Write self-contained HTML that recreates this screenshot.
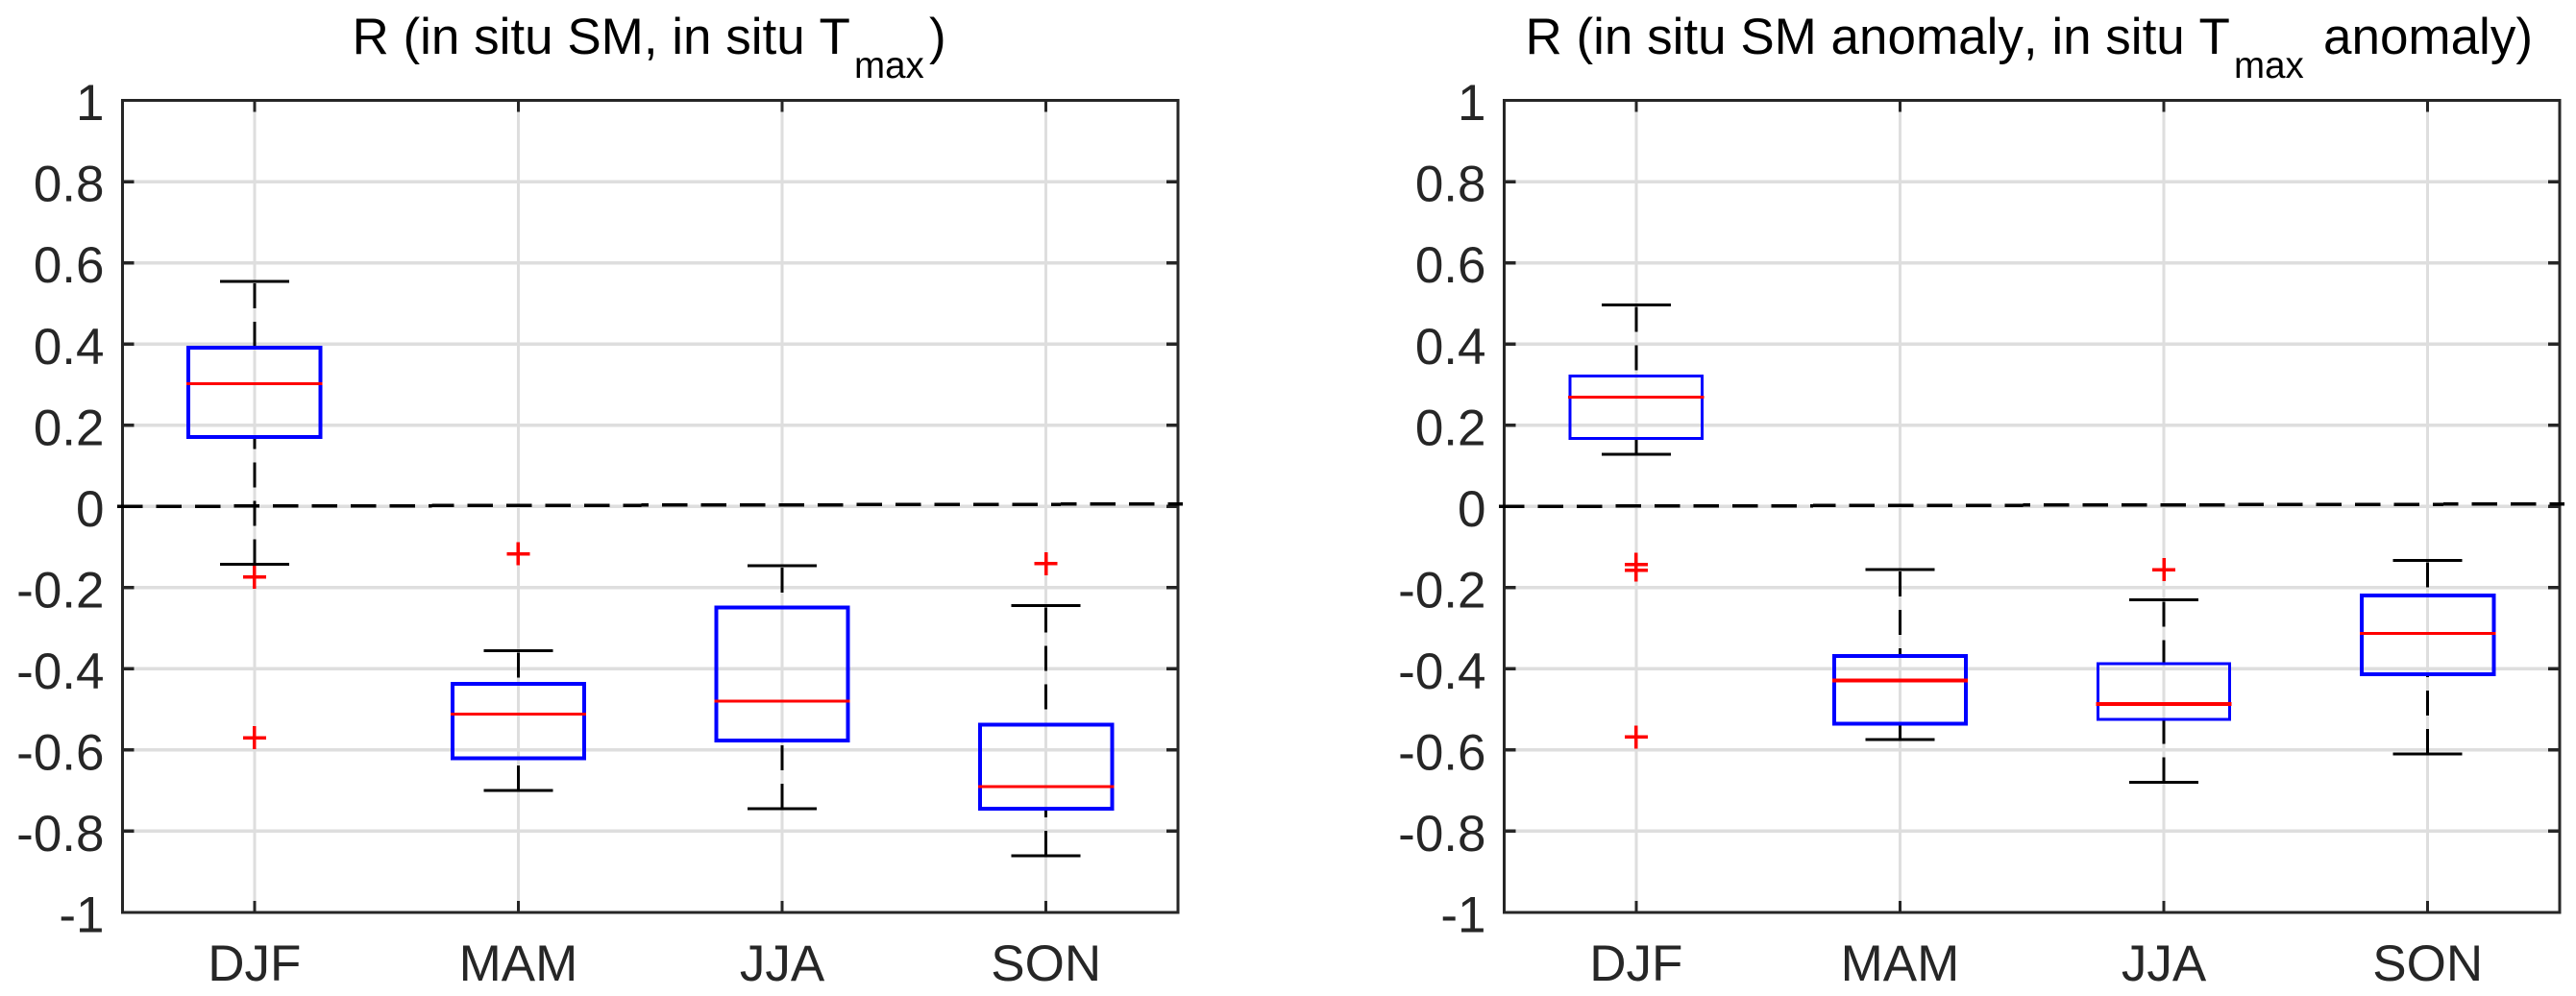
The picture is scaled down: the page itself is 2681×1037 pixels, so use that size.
<!DOCTYPE html>
<html lang="en">
<head>
<meta charset="utf-8">
<title>Seasonal correlation box plots</title>
<style>
  html, body { margin: 0; padding: 0; background: #fff; }
  svg { display: block; }
  text { font-family: "Liberation Sans", Arial, sans-serif; font-kerning: none; }
</style>
</head>
<body>
<svg id="figure" xmlns="http://www.w3.org/2000/svg" width="2681" height="1037" viewBox="0 0 2681 1037">
  <rect x="0" y="0" width="2681" height="1037" fill="#ffffff"/>
  <g id="panel-left"></g>
  <g id="panel-right"></g>
  <text x="366.5" y="56" font-size="53" fill="#000">R (in situ SM, in situ T<tspan x="889" font-size="38.5" dy="25">max</tspan><tspan font-size="53" x="967" dy="-25">)</tspan></text>
  <text x="1587.5" y="56" font-size="53" fill="#000">R (in situ SM anomaly, in situ T<tspan x="2325" font-size="38.5" dy="25">max</tspan><tspan font-size="53" x="2418" dy="-25">anomaly)</tspan></text>
</svg>
<script>
const categories = ['DJF', 'MAM', 'JJA', 'SON'];
const yTickValues = [1, 0.8, 0.6, 0.4, 0.2, 0, -0.2, -0.4, -0.6, -0.8, -1];
const yTickLabels = ['1', '0.8', '0.6', '0.4', '0.2', '0', '-0.2', '-0.4', '-0.6', '-0.8', '-1'];
const zeroLineValues = [0, 0.006];

const leftWhiskerHigh = [0.554, -0.355, -0.146, -0.244];
const leftQ3 = [0.391, -0.437, -0.249, -0.538];
const leftMedian = [0.302, -0.512, -0.480, -0.690];
const leftQ1 = [0.171, -0.620, -0.577, -0.745];
const leftWhiskerLow = [-0.142, -0.700, -0.745, -0.861];
const leftOutliers = [[-0.174, -0.570], [-0.117], [], [-0.141]];

const rightWhiskerHigh = [0.496, -0.156, -0.230, -0.133];
const rightQ3 = [0.321, -0.368, -0.387, -0.219];
const rightMedian = [0.269, -0.429, -0.487, -0.313];
const rightQ1 = [0.167, -0.535, -0.524, -0.413];
const rightWhiskerLow = [0.128, -0.574, -0.679, -0.610];
const rightOutliers = [[-0.143, -0.157, -0.568], [], [-0.156], []];

const NS = 'http://www.w3.org/2000/svg';
const plotTop = 104.5, plotBottom = 950;
const yMin = -1, yMax = 1, xMin = 0.5, xMax = 4.5;

function yScale(v) {
  return plotBottom - (v - yMin) / (yMax - yMin) * (plotBottom - plotTop);
}

function drawLine(parent, x1, y1, x2, y2, stroke, width, dash) {
  const el = document.createElementNS(NS, 'line');
  el.setAttribute('x1', x1);
  el.setAttribute('y1', y1);
  el.setAttribute('x2', x2);
  el.setAttribute('y2', y2);
  el.setAttribute('stroke', stroke);
  el.setAttribute('stroke-width', width);
  el.setAttribute('shape-rendering', 'crispEdges');
  if (dash) el.setAttribute('stroke-dasharray', dash);
  parent.appendChild(el);
  return el;
}

function drawPanel(parent, plotLeft, plotRight, high, q3, median, q1, low, outliers, boxWidths, medianWidths) {
  const xScale = v => plotLeft + (v - xMin) / (xMax - xMin) * (plotRight - plotLeft);
  const grid = '#dedede', axisColor = '#262626';

  yTickValues.forEach((v, i) => {
    const y = yScale(v);
    if (i > 0 && i < yTickValues.length - 1) {
      const g = drawLine(parent, plotLeft, y, plotRight, y, grid, 3.5);
      
      
      const t1 = drawLine(parent, plotLeft, y, plotLeft + 12, y, axisColor, 3.5);
      
      
      const t2 = drawLine(parent, plotRight - 12, y, plotRight, y, axisColor, 3.5);
      
      
    }
    const label = document.createElementNS(NS, 'text');
    
    
    label.setAttribute('x', plotLeft - 19);
    label.setAttribute('y', y + 20.6);
    label.setAttribute('text-anchor', 'end');
    label.setAttribute('font-size', '53');
    label.setAttribute('fill', axisColor);
    label.textContent = yTickLabels[i];
    parent.appendChild(label);
  });

  categories.forEach((name, i) => {
    const x = xScale(i + 1);
    const g = drawLine(parent, x, plotTop, x, plotBottom, grid, 3);
    
    
    const t1 = drawLine(parent, x, plotTop, x, plotTop + 12, axisColor, 3);
    
    
    const t2 = drawLine(parent, x, plotBottom - 12, x, plotBottom, axisColor, 3);
    
    
    const label = document.createElementNS(NS, 'text');
    
    
    label.setAttribute('x', x);
    label.setAttribute('y', 1021);
    label.setAttribute('text-anchor', 'middle');
    label.setAttribute('font-size', '53');
    label.setAttribute('fill', axisColor);
    label.textContent = name;
    parent.appendChild(label);
  });

  const frame = document.createElementNS(NS, 'rect');
  
  
  frame.setAttribute('x', plotLeft);
  frame.setAttribute('y', plotTop);
  frame.setAttribute('width', plotRight - plotLeft);
  frame.setAttribute('height', plotBottom - plotTop);
  frame.setAttribute('fill', 'none');
  frame.setAttribute('stroke', axisColor);
  frame.setAttribute('stroke-width', '3');
  frame.setAttribute('shape-rendering', 'crispEdges');
  parent.appendChild(frame);

  const halfBox = 68.6, halfCap = 36, halfPlus = 12;
  categories.forEach((name, i) => {
    const x = xScale(i + 1);
    const yHigh = yScale(high[i]), yQ3 = yScale(q3[i]), yMed = yScale(median[i]);
    const yQ1 = yScale(q1[i]), yLow = yScale(low[i]);

    const wUp = drawLine(parent, x, yHigh + 2, x, yQ3, '#000', 3, '26 14');
    
    
    const wDown = drawLine(parent, x, yLow, x, yQ1, '#000', 3, '26 14');
    
    
    const capUp = drawLine(parent, x - halfCap, yHigh, x + halfCap, yHigh, '#000', 3);
    
    
    const capDown = drawLine(parent, x - halfCap, yLow, x + halfCap, yLow, '#000', 3);
    
    

    const box = document.createElementNS(NS, 'rect');
    
    
    box.setAttribute('x', x - halfBox);
    box.setAttribute('y', yQ3);
    box.setAttribute('width', halfBox * 2);
    box.setAttribute('height', yQ1 - yQ3);
    box.setAttribute('fill', 'none');
    box.setAttribute('stroke', '#0000ff');
    box.setAttribute('stroke-width', boxWidths[i]);
    box.setAttribute('shape-rendering', 'crispEdges');
    parent.appendChild(box);

    const med = drawLine(parent, x - halfBox - 2, yMed, x + halfBox + 2, yMed, '#ff0000', medianWidths[i]);
    
    

    outliers[i].forEach(v => {
      const y = yScale(v);
      const h = drawLine(parent, x - halfPlus, y, x + halfPlus, y, '#ff0000', 3.5);
      
      
      const u = drawLine(parent, x, y - halfPlus, x, y + halfPlus, '#ff0000', 3.5);
      
      
    });
  });

  const zero = drawLine(parent, plotLeft - 5.5, yScale(zeroLineValues[0]), plotRight + 5, yScale(zeroLineValues[1]), '#000', 3.5, '26.5 14');
  
  
}

drawPanel(document.getElementById('panel-left'), 127.5, 1226,
  leftWhiskerHigh, leftQ3, leftMedian, leftQ1, leftWhiskerLow, leftOutliers,
  [4, 4, 4, 4], [3, 3, 3, 3]);
drawPanel(document.getElementById('panel-right'), 1565.5, 2664,
  rightWhiskerHigh, rightQ3, rightMedian, rightQ1, rightWhiskerLow, rightOutliers,
  [3, 4, 3, 4], [3, 4, 4, 3]);
</script>
</body>
</html>
